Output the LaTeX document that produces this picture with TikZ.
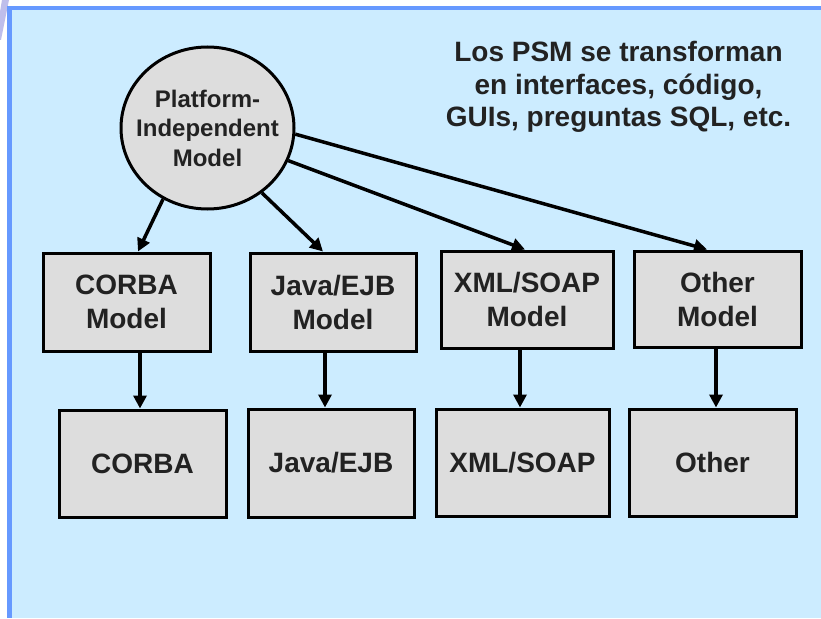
\documentclass[tikz,border=0pt]{standalone}
\usepackage{fontspec}
\setmainfont{Liberation Sans}
\usetikzlibrary{arrows.meta,shapes.geometric}
\definecolor{bgblue}{RGB}{204,236,255}
\definecolor{edgeblue}{RGB}{102,153,255}
\definecolor{boxgray}{RGB}{221,221,221}
\definecolor{txt}{RGB}{34,34,34}
\definecolor{wedge}{RGB}{190,190,235}
\tikzset{
  modelbox/.style={draw=black,line width=3pt,fill=boxgray,text=txt,font=\fontsize{28}{34}\selectfont\bfseries,align=center,inner sep=0pt},
  pimnode/.style={ellipse,draw=black,line width=3pt,fill=boxgray,inner sep=0pt,minimum width=173,minimum height=162},
  pimtext/.style={text=txt,font=\fontsize{24}{29.5}\selectfont\bfseries,align=center,inner sep=0pt},
  arr/.style={line width=3.5pt,-{Triangle[length=13pt,width=13pt]}},
  note/.style={text=txt,font=\fontsize{28}{32.5}\selectfont\bfseries,align=center,inner sep=0pt}
}
\begin{document}
\begin{tikzpicture}[x=1pt,y=-1pt]
\useasboundingbox (0,0) rectangle (821,618);
% background
\fill[white] (0,0) rectangle (821,618);
\fill[wedge] (2,0) -- (9,0) -- (1,40) -- (0,40) -- (0,12) -- cycle;
\fill[bgblue] (9,9) rectangle (821,618);
\draw[edgeblue,line width=4pt] (7,8.5) -- (821,8.5);
\draw[edgeblue,line width=5pt] (9.5,8.5) -- (9.5,618);
% note
\node[note] (note) at (618.5,87) {Los PSM se transforman\\en interfaces, código,\\GUIs, preguntas SQL, etc.};
% PIM
\node[pimnode] (pim) at (207.5,128) {};
\node[pimtext] (pimlabel) at (pim.center) {Platform-\\Independent\\Model};
% model boxes
\node[modelbox,minimum width=167,minimum height=98] (cm) at (126.5,302) {CORBA\\Model};
\node[modelbox,minimum width=166,minimum height=98] (jm) at (333,302) {Java/EJB\\Model};
\node[modelbox,minimum width=172,minimum height=97] (xm) at (527,299.5) {XML/SOAP\\Model};
\node[modelbox,minimum width=167,minimum height=96] (om) at (717.5,299) {Other\\Model};
% platform boxes
\node[modelbox,minimum width=167,minimum height=107] (c) at (142.5,463.5) {CORBA};
\node[modelbox,minimum width=166,minimum height=108] (j) at (331,463) {Java/EJB};
\node[modelbox,minimum width=173,minimum height=107] (x) at (522.5,462.5) {XML/SOAP};
\node[modelbox,minimum width=167,minimum height=107] (o) at (712.5,462.5) {Other};
% arrows from PIM
\draw[arr] (pim.-122) -- (cm.north -| 138,0);
\draw[arr] (pim.-50) -- (jm.north -| 323,0);
\draw[arr] (pim.-22) -- (xm.north -| 525,0);
\draw[arr] (pim.-4.6) -- (om.north -| 707,0);
% vertical arrows
\draw[arr] (cm.south -| 140,0) -- (c.north -| 140,0);
\draw[arr] (jm.south -| 325,0) -- (j.north -| 325,0);
\draw[arr] (xm.south -| 520,0) -- (x.north -| 520,0);
\draw[arr] (om.south -| 716,0) -- (o.north -| 716,0);
\end{tikzpicture}
\end{document}
